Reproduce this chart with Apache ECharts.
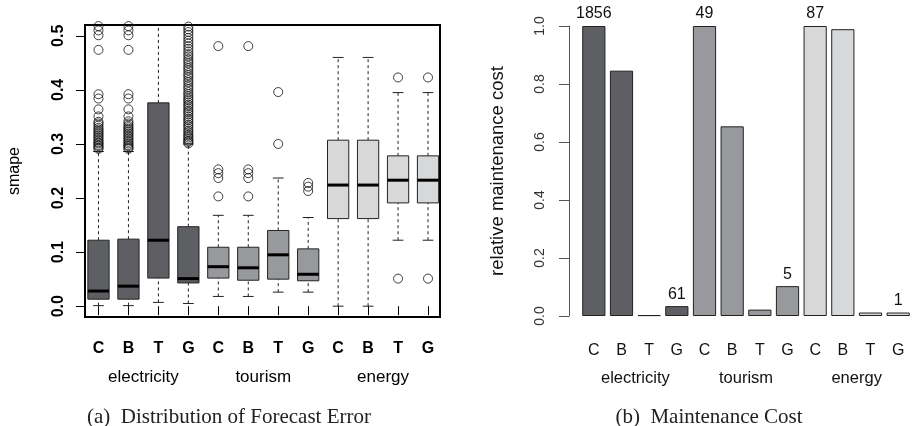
<!DOCTYPE html>
<html><head><meta charset="utf-8">
<script src="https://cdn.jsdelivr.net/npm/echarts@6/dist/echarts.min.js"></script>
<style>html,body{margin:0;padding:0;background:#fff}#c{width:912px;height:426px}</style>
</head><body><div id="c"></div>
<script>
const groups = ['electricity', 'tourism', 'energy'];
const methods = ['C', 'B', 'T', 'G'];
const categories = ['C','B','T','G','C','B','T','G','C','B','T','G'];
const groupColors = ['#5e5f63', '#98999c', '#d7d8da'];

// Panel (a): boxplot statistics per category
const boxLow  = [0.001, 0.001, 0.007, 0.005, 0.018, 0.018, 0.026, 0.026, 0.000, 0.000, 0.122, 0.122];
const boxQ1   = [0.013, 0.013, 0.052, 0.043, 0.052, 0.048, 0.050, 0.047, 0.162, 0.162, 0.191, 0.191];
const boxMed  = [0.028, 0.037, 0.122, 0.051, 0.073, 0.071, 0.095, 0.059, 0.224, 0.224, 0.233, 0.233];
const boxQ3   = [0.122, 0.124, 0.376, 0.147, 0.109, 0.109, 0.140, 0.106, 0.307, 0.307, 0.278, 0.278];
const boxHigh = [0.286, 0.286, 0.620, 0.300, 0.168, 0.168, 0.237, 0.164, 0.460, 0.460, 0.395, 0.395];
const outliers = [
  [0.291,0.293,0.296,0.298,0.301,0.303,0.306,0.309,0.312,0.315,0.318,0.321,0.324,0.327,0.330,0.334,0.338,0.341,0.351,0.364,0.384,0.392,0.474,0.501,0.510,0.518],
  [0.291,0.293,0.296,0.298,0.301,0.304,0.307,0.310,0.313,0.316,0.319,0.322,0.325,0.328,0.331,0.334,0.338,0.342,0.351,0.364,0.384,0.392,0.474,0.501,0.510,0.518],
  [],
  [0.301,0.304,0.306,0.309,0.312,0.315,0.318,0.322,0.325,0.329,0.333,0.336,0.340,0.344,0.347,0.351,0.355,0.359,0.362,0.366,0.370,0.373,0.377,0.381,0.384,0.388,0.392,0.396,0.401,0.405,0.409,0.414,0.418,0.423,0.427,0.431,0.436,0.440,0.444,0.449,0.453,0.457,0.462,0.466,0.471,0.476,0.481,0.486,0.491,0.496,0.502,0.507,0.512,0.517],
  [0.203,0.237,0.246,0.253,0.481],
  [0.203,0.237,0.246,0.253,0.481],
  [0.300,0.396],
  [0.213,0.221,0.228],
  [],
  [],
  [0.051,0.423],
  [0.051,0.423]
];
const yTicksA = [0, 0.1, 0.2, 0.3, 0.4, 0.5];

// Panel (b): relative maintenance cost
const barValues = [1.0, 0.846, 0.003, 0.034, 1.0, 0.654, 0.022, 0.103, 1.0, 0.989, 0.012, 0.012];
const barLabels = ['1856', '', '', '61', '49', '', '', '5', '87', '', '', '1'];
const yTicksB = [0, 0.2, 0.4, 0.6, 0.8, 1.0];

const positions = categories.map((c, i) => i + 1);
const groupPositions = groups.map((g, i) => i * 4 + 2.5);

const boxData = categories.map((c, i) => ({
  value: [positions[i], boxLow[i], boxQ1[i], boxMed[i], boxQ3[i], boxHigh[i]],
  itemStyle: { color: groupColors[Math.floor(i / 4)] }
}));
const outlierData = [];
outliers.forEach((arr, i) => arr.forEach(v => outlierData.push([positions[i], v])));
const barData = barValues.map((v, i) => ({ value: v, itemStyle: { color: groupColors[Math.floor(i / 4)] } }));

function renderBox(params, api) {
  const x = api.value(0);
  const lo = api.coord([x, api.value(1)]);
  const q1 = api.coord([x, api.value(2)]);
  const md = api.coord([x, api.value(3)]);
  const q3 = api.coord([x, api.value(4)]);
  const hi = api.coord([x, api.value(5)]);
  const unit = api.size([1, 0])[0];
  const hw = unit * 0.355, cw = unit * 0.18;
  const cx = lo[0];
  const dash = { stroke: '#222', lineWidth: 1, lineDash: [3, 3] };
  const solid = { stroke: '#222', lineWidth: 1 };
  return {
    type: 'group',
    children: [
      { type: 'line', shape: { x1: cx, y1: lo[1], x2: cx, y2: q1[1] }, style: dash },
      { type: 'line', shape: { x1: cx, y1: q3[1], x2: cx, y2: hi[1] }, style: dash },
      { type: 'line', shape: { x1: cx - cw, y1: lo[1], x2: cx + cw, y2: lo[1] }, style: solid },
      { type: 'line', shape: { x1: cx - cw, y1: hi[1], x2: cx + cw, y2: hi[1] }, style: solid },
      { type: 'rect', shape: { x: cx - hw, y: q3[1], width: 2 * hw, height: q1[1] - q3[1] },
        style: { fill: api.visual('color'), stroke: '#222', lineWidth: 1 } },
      { type: 'line', shape: { x1: cx - hw, y1: md[1], x2: cx + hw, y2: md[1] }, style: { stroke: '#000', lineWidth: 3 } }
    ]
  };
}

const chart = echarts.init(document.getElementById('c'), null, { renderer: 'canvas' });
chart.setOption({
  animation: false,
  backgroundColor: '#fff',
  textStyle: { fontFamily: 'Liberation Sans' },
  title: [
    { text: '(a)  Distribution of Forecast Error', left: 229, top: 407, textAlign: 'center', padding: 0,
      textStyle: { fontFamily: 'Liberation Serif', fontSize: 21, fontWeight: 'normal', color: '#222' } },
    { text: '(b)  Maintenance Cost', left: 709, top: 407, textAlign: 'center', padding: 0,
      textStyle: { fontFamily: 'Liberation Serif', fontSize: 21, fontWeight: 'normal', color: '#222' } }
  ],
  grid: [
    { left: 85, top: 25, width: 355, height: 292, show: true, borderColor: '#000', borderWidth: 2, backgroundColor: 'transparent' },
    { left: 580, top: 26, width: 333.5, height: 290 }
  ],
  xAxis: [
    { type: 'value', gridIndex: 0, min: 0.55, max: 12.4, position: 'bottom',
      axisLine: { show: false }, splitLine: { show: false },
      axisTick: { show: true, customValues: positions, length: 9, lineStyle: { color: '#000', width: 1 } },
      axisLabel: { customValues: positions, formatter: v => categories[Math.round(v) - 1],
        fontSize: 16, fontWeight: 'bold', color: '#000', margin: 24 } },
    { type: 'value', gridIndex: 0, min: 0.55, max: 12.4, position: 'bottom',
      axisLine: { show: false }, splitLine: { show: false }, axisTick: { show: false },
      axisLabel: { customValues: groupPositions, formatter: v => groups[Math.round((v - 2.5) / 4)],
        fontSize: 17, color: '#000', margin: 52 } },
    { type: 'category', gridIndex: 1, data: categories, position: 'bottom',
      axisLine: { show: false }, axisTick: { show: false },
      axisLabel: { interval: 0, fontSize: 16, color: '#111', margin: 27 } },
    { type: 'category', gridIndex: 1, data: groups, position: 'bottom',
      axisLine: { show: false }, axisTick: { show: false },
      axisLabel: { interval: 0, fontSize: 16.5, color: '#111', margin: 54 } }
  ],
  yAxis: [
    { type: 'value', gridIndex: 0, min: -0.02, max: 0.52,
      axisLine: { show: false }, splitLine: { show: false },
      axisTick: { show: true, customValues: yTicksA, length: 9, lineStyle: { color: '#000', width: 1 } },
      axisLabel: { customValues: yTicksA, rotate: 90, formatter: v => v.toFixed(1),
        fontSize: 16, fontWeight: 'bold', color: '#000', margin: 18 },
      name: 'smape', nameLocation: 'middle', nameRotate: 90, nameGap: 62,
      nameTextStyle: { fontSize: 16, color: '#000' } },
    { type: 'value', gridIndex: 1, min: 0, max: 1, interval: 0.2, offset: 11,
      axisLine: { show: true, lineStyle: { color: '#555', width: 1 } }, splitLine: { show: false },
      axisTick: { show: true, length: 10, lineStyle: { color: '#555', width: 1 } },
      axisLabel: { rotate: 90, formatter: v => v.toFixed(1), fontSize: 14, color: '#333', margin: 22 },
      name: 'relative maintenance cost', nameLocation: 'middle', nameRotate: 90, nameGap: 62,
      nameTextStyle: { fontSize: 18.5, color: '#111' } }
  ],
  series: [
    { type: 'custom', xAxisIndex: 0, yAxisIndex: 0, clip: true, renderItem: renderBox,
      encode: { x: 0, y: [1, 2, 3, 4, 5] }, data: boxData, z: 2 },
    { type: 'scatter', xAxisIndex: 0, yAxisIndex: 0, data: outlierData, symbol: 'circle', symbolSize: 9,
      itemStyle: { color: 'rgba(0,0,0,0)', borderColor: '#111', borderWidth: 1 }, z: 3 },
    { type: 'bar', xAxisIndex: 2, yAxisIndex: 1, data: barData, barWidth: 23.2,
      itemStyle: { borderColor: '#222', borderWidth: 1 },
      label: { show: true, position: 'top', distance: 4, fontSize: 16, color: '#111',
        formatter: p => barLabels[p.dataIndex] } }
  ]
});
</script>
</body></html>
